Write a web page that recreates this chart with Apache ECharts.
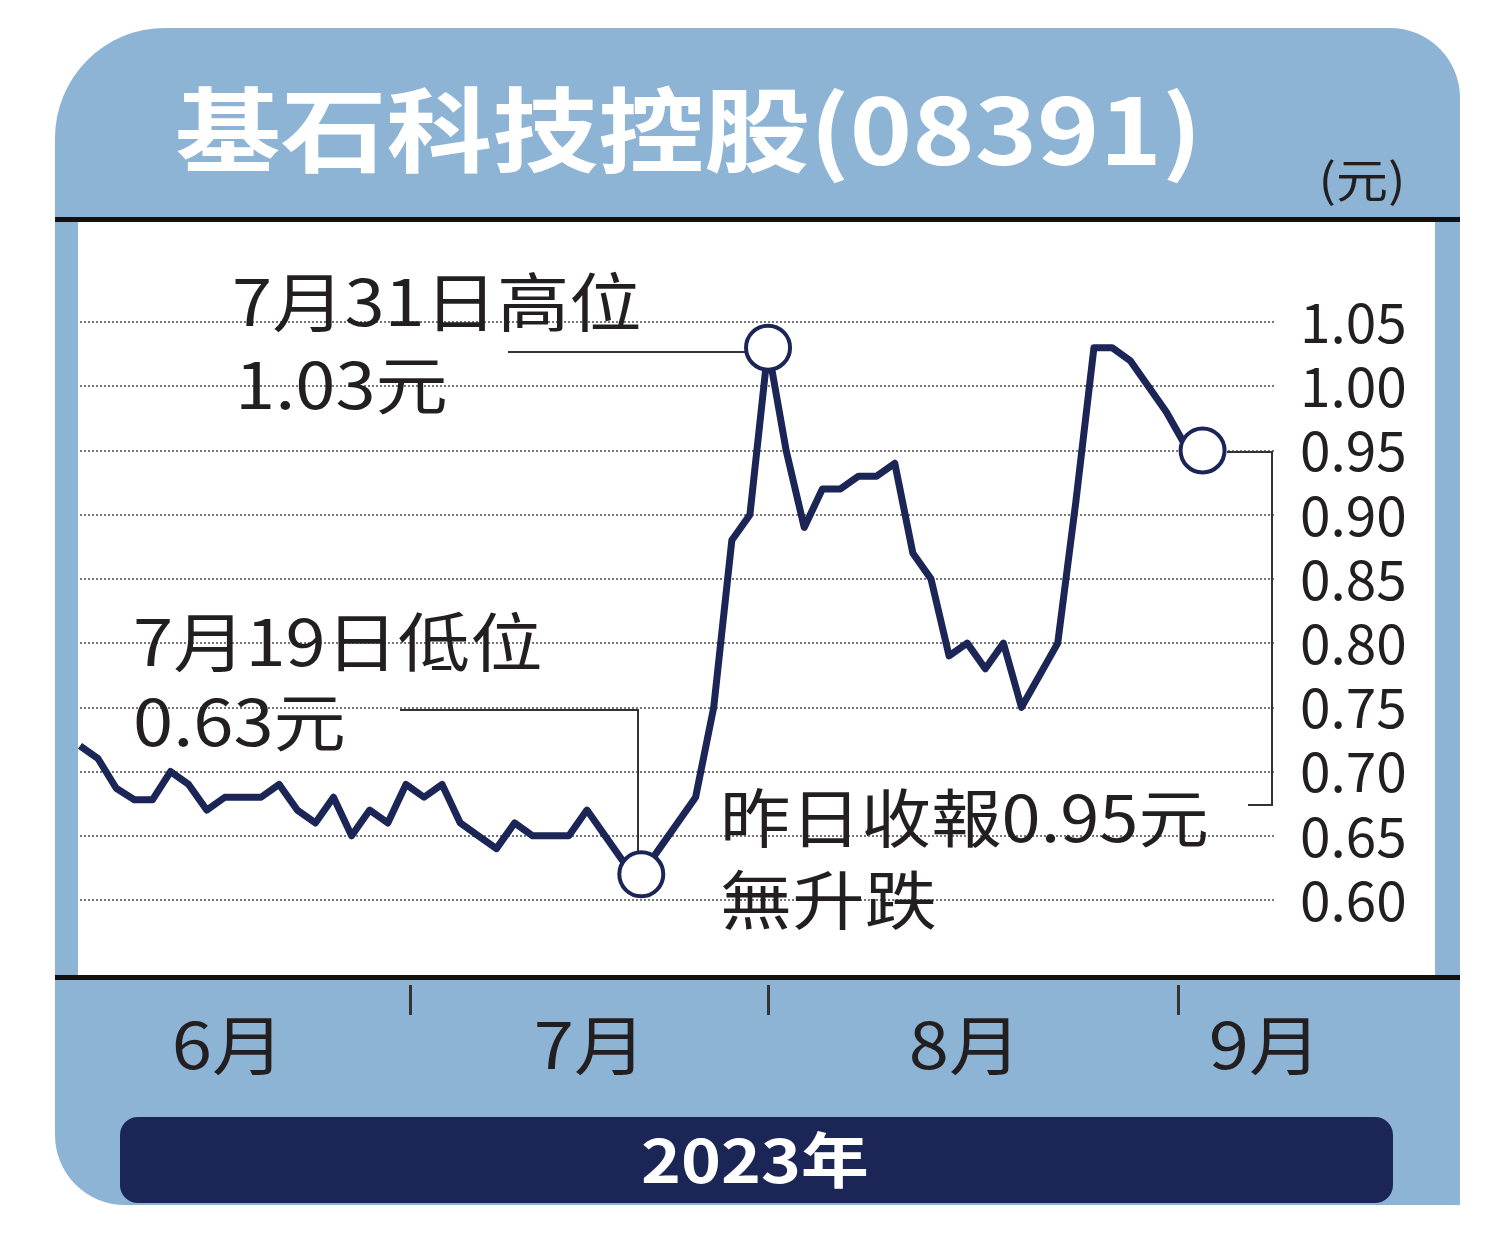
<!DOCTYPE html>
<html><head><meta charset="utf-8">
<script src="https://cdn.jsdelivr.net/npm/echarts@6/dist/echarts.min.js"></script>
<style>html,body{margin:0;padding:0;background:#fff}#c{width:1500px;height:1252px}</style>
</head><body><div id="c"></div>
<script>
// 收市價 (元)，6月至9月初
const prices = [0.72,0.71,0.687,0.678,0.678,0.70,0.69,0.67,0.68,0.68,0.68,
  0.69,0.67,0.66,0.68,0.65,0.67,0.66,0.69,0.68,0.69,
  0.66,0.65,0.64,0.66,0.65,0.65,0.65,0.67,0.65,0.63,0.62,
  0.64,0.66,0.68,0.75,0.88,0.90,1.03,0.95,0.89,0.92,0.92,
  0.93,0.93,0.94,0.87,0.85,0.79,0.80,0.78,0.80,0.75,
  0.775,0.80,0.91,1.03,1.03,1.02,1.00,0.98,0.955,0.95,
  null,null,null,null];
const yTicks = [0.60,0.65,0.70,0.75,0.80,0.85,0.90,0.95,1.00,1.05];
const months = ['6月','7月','8月','9月'];
const lowIdx = 31, highIdx = 38, lastIdx = 62;

const NAVY = '#1b2556', BLUE = '#8db4d5';
const FONT = '"Noto Sans CJK TC", sans-serif';
const chart = echarts.init(document.getElementById('c'));

const txt = (t, x, y, size, color, weight, align, sx) => ({
  type: 'text', z: 20, x, y, scaleX: sx || 1.13,
  style: { text: t, x: 0, y: 0, fill: color || '#231f20', font: `${weight || 'normal'} ${size}px ${FONT}`,
    textAlign: align || 'left', textVerticalAlign: 'middle' }
});
const line = pts => ({ type: 'polyline', z: 5, shape: { points: pts }, style: { stroke: '#333', lineWidth: 2, fill: null } });

chart.setOption({
  animation: false,
  grid: { left: 80, right: 225, top: 322, bottom: 352 },
  xAxis: { type: 'category', boundaryGap: false, data: prices.map((_, i) => i), show: false },
  yAxis: {
    type: 'value', position: 'right', min: 0.60, max: 1.05, interval: 0.05,
    axisLine: { show: false }, axisTick: { show: false },
    axisLabel: { margin: 25, color: '#231f20', fontSize: 55, fontFamily: FONT, formatter: v => v.toFixed(2) },
    splitLine: { lineStyle: { type: 'dotted', color: '#777', width: 2 } }
  },
  series: [{
    type: 'line', data: prices, symbol: 'none', z: 3,
    lineStyle: { color: NAVY, width: 7, join: 'round' },
    markPoint: {
      symbol: 'circle', symbolSize: 44, z: 10,
      itemStyle: { color: '#fff', borderColor: NAVY, borderWidth: 4 },
      label: { show: false },
      data: [lowIdx, highIdx, lastIdx].map(i => ({ coord: [i, prices[i]] }))
    }
  }],
  graphic: [
    { type: 'rect', z: -20, shape: { x: 55, y: 28, width: 1405, height: 1177, r: [110, 70, 0, 70] }, style: { fill: BLUE } },
    { type: 'rect', z: -19, shape: { x: 78, y: 222, width: 1357, height: 755 }, style: { fill: '#fff' } },
    { type: 'rect', z: -18, shape: { x: 55, y: 217, width: 1405, height: 5 }, style: { fill: '#111' } },
    { type: 'rect', z: -18, shape: { x: 55, y: 975, width: 1405, height: 5 }, style: { fill: '#111' } },
    { type: 'rect', z: -17, shape: { x: 120, y: 1117, width: 1273, height: 86, r: 18 }, style: { fill: NAVY } },
    ...[410, 768, 1178].map(x => ({ type: 'rect', z: -16, shape: { x: x - 1, y: 985, width: 3, height: 30 }, style: { fill: '#333' } })),
    txt('基石科技控股(08391)', 175, 130, 92, '#fff', 'bold', 'left', 1.15),
    txt('(元)', 1362, 180, 46, '#231f20', 'normal', 'center'),
    txt('2023年', 755, 1160, 60, '#fff', 'bold', 'center'),
    ...months.map((m, i) => txt(m, [228, 590, 965, 1265][i], 1045, 64, '#231f20', 'normal', 'center')),
    txt('7月31日高位', 232, 302, 64),
    txt('1.03元', 235, 385, 64),
    txt('7月19日低位', 133, 642, 64),
    txt('0.63元', 133, 722, 64),
    txt('昨日收報0.95元', 720, 818, 64, '#231f20', 'normal', 'left', 1.1),
    txt('無升跌', 720, 900, 64),
    line([[508, 352], [748, 352]]),
    line([[400, 710], [638, 710], [638, 858]]),
    line([[1227, 452], [1272, 452], [1272, 805], [1248, 805]])
  ]
});
</script></body></html>
